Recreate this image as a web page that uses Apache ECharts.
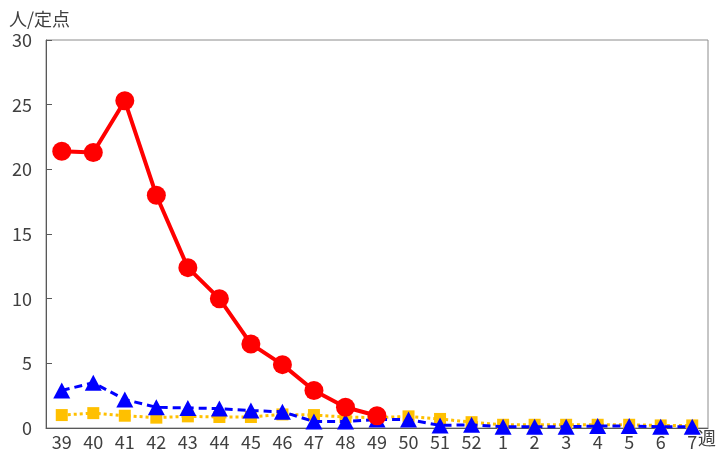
<!DOCTYPE html>
<html><head><meta charset="utf-8">
<script src="https://cdn.jsdelivr.net/npm/echarts@6/dist/echarts.min.js"></script>
<style>html,body{margin:0;padding:0;background:#fff}#c{width:716px;height:452px}</style>
</head><body><div id="c"></div>
<script>
const weeks = ['39','40','41','42','43','44','45','46','47','48','49','50','51','52','1','2','3','4','5','6','7'];
const redValues = [21.4,21.3,25.3,18.0,12.4,10.0,6.5,4.9,2.9,1.6,0.95,null,null,null,null,null,null,null,null,null,null];
const blueValues = [2.9,3.5,2.2,1.6,1.55,1.5,1.35,1.25,0.5,0.5,0.65,0.65,0.2,0.25,0.1,0.1,0.1,0.15,0.15,0.1,0.1];
const orangeValues = [1.0,1.15,0.95,0.8,0.9,0.85,0.85,1.05,1.0,0.85,0.8,0.9,0.7,0.45,0.25,0.25,0.25,0.25,0.25,0.2,0.2];
const yTicks = [0,5,10,15,20,25,30];

const chart = echarts.init(document.getElementById('c'));
const font = '"Noto Sans CJK JP", "Noto Sans", sans-serif';
chart.setOption({
  animation:false,
  textStyle:{fontFamily:font},
  grid:{left:46,right:8,top:40,bottom:24,show:true,borderColor:'#8c8c8c',borderWidth:1},
  xAxis:{type:'category',data:weeks,boundaryGap:true,
    axisLine:{lineStyle:{color:'#595959',width:1}},
    axisTick:{inside:true,length:6,lineStyle:{color:'#595959'}},
    axisLabel:{color:'#404040',fontSize:18,margin:5,fontFamily:font}},
  yAxis:{type:'value',min:yTicks[0],max:yTicks[yTicks.length-1],interval:5,
    name:'人/定点',nameLocation:'end',nameGap:12,
    nameTextStyle:{color:'#404040',fontSize:18,align:'left',padding:[0,0,0,-37],fontFamily:font},
    axisLine:{show:true,lineStyle:{color:'#595959',width:1}},
    axisTick:{show:true,inside:true,length:6,lineStyle:{color:'#595959'}},
    splitLine:{show:false},
    axisLabel:{color:'#404040',fontSize:18,margin:14,fontFamily:font}},
  graphic:[{type:'text',left:698,top:429,style:{text:'週',fill:'#404040',font:'18px '+font}}],
  series:[
    {type:'line',data:orangeValues,symbol:'rect',symbolSize:12,
      lineStyle:{color:'#ffc000',width:3,type:'dotted'},itemStyle:{color:'#ffc000'},z:2},
    {type:'line',data:blueValues,symbol:'triangle',symbolSize:[17,16],
      lineStyle:{color:'#0000ff',width:3,type:[8,5]},itemStyle:{color:'#0000ff'},z:3},
    {type:'line',data:redValues,symbol:'circle',symbolSize:19,
      lineStyle:{color:'#ff0000',width:4},itemStyle:{color:'#ff0000'},z:4}
  ]
});
</script></body></html>
